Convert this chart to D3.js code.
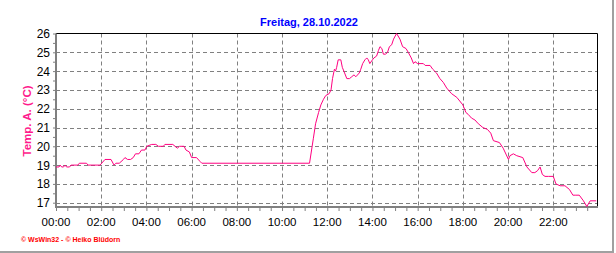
<!DOCTYPE html>
<html>
<head>
<meta charset="utf-8">
<script src="https://cdn.jsdelivr.net/npm/d3@7"></script>
<style>
  body { margin: 0; background: #fff; }
  svg { display: block; font-family: Arial, "Liberation Sans", sans-serif; }
</style>
</head>
<body>
<svg id="chart" width="616" height="253"></svg>
<script>
// chart texts
var title = "Freitag, 28.10.2022";
var yLabel = "Temp. A. (°C)";
var footer = "© WsWin32 - © Heiko Blüdorn";

// axis ticks
var yTicks = [17, 18, 19, 20, 21, 22, 23, 24, 25, 26];
var xTickHours = [0, 2, 4, 6, 8, 10, 12, 14, 16, 18, 20, 22];

// measurements (time of day, outdoor temperature)
var times = ["00:00","00:08","00:11","00:15","00:20","00:24","00:28","00:36","00:40","00:58",
  "01:02","01:21","01:25","01:57","02:10","02:26","02:34","02:39","02:48","02:59",
  "03:03","03:10","03:18","03:25","03:31","03:40","03:47","03:56","04:01","04:14",
  "04:25","04:32","04:45","04:49","05:10","05:16","05:22","05:28","05:40","05:45",
  "05:54","06:00","06:13","06:22","06:27","11:13","11:23","11:29","11:37","11:43",
  "11:50","11:56","12:05","12:10","12:14","12:19","12:22","12:25","12:29","12:36",
  "12:40","12:46","12:52","12:59","13:05","13:11","13:16","13:25","13:29","13:34",
  "13:40","13:45","13:49","13:53","14:00","14:04","14:11","14:16","14:20","14:25",
  "14:29","14:35","14:40","14:45","14:51","14:56","15:04","15:13","15:20","15:29",
  "15:35","15:43","15:49","15:53","16:00","16:15","16:20","16:33","16:40","16:50",
  "16:59","17:08","17:17","17:30","17:44","18:00","18:08","18:14","18:23","18:32",
  "18:41","18:53","19:05","19:14","19:21","19:37","19:47","20:01","20:05","20:14",
  "20:23","20:39","20:50","21:03","21:11","21:18","21:25","21:31","21:38","21:47",
  "22:00","22:07","22:18","22:31","22:43","22:52","22:58","23:09","23:20","23:29",
  "23:38","23:54"];
var temps = [18.9,18.9,19.0,18.9,18.9,19.0,18.9,18.9,19.0,19.0,
  19.1,19.1,19.0,19.0,19.3,19.3,19.0,19.1,19.1,19.3,
  19.4,19.3,19.3,19.4,19.6,19.6,19.8,19.8,20.0,20.1,
  20.1,20.0,20.0,20.1,20.1,20.0,19.9,20.0,20.0,19.8,
  19.7,19.4,19.4,19.2,19.1,19.1,20.4,21.2,21.8,22.2,
  22.5,22.7,22.8,23.0,23.6,24.1,24.0,24.2,24.6,24.6,
  24.2,23.9,23.6,23.6,23.7,23.8,23.7,23.9,24.1,24.4,
  24.6,24.7,24.6,24.4,24.6,24.7,24.8,25.1,25.3,25.2,
  24.9,24.9,25.0,25.3,25.4,25.7,26.0,25.7,25.3,25.2,
  25.0,24.7,24.4,24.5,24.4,24.4,24.3,24.3,24.1,23.9,
  23.6,23.4,23.1,22.8,22.6,22.2,21.8,21.7,21.5,21.4,
  21.2,21.0,20.9,20.7,20.3,20.2,19.9,19.3,19.5,19.6,
  19.5,19.4,18.9,18.6,18.6,18.7,18.9,18.5,18.4,18.4,
  18.4,18.0,17.9,17.9,17.7,17.4,17.4,17.4,17.1,16.8,
  17.1,17.1];

function toHours(s) {
    var p = s.split(":");
    return +p[0] + (+p[1]) / 60;
}
var data = times.map(function(t, i) { return {h: toHours(t), v: temps[i]}; });

var svg = d3.select("#chart");
var plotLeft = 56, plotRight = 597, plotTop = 33.5, plotBottom = 207;

var x = d3.scaleLinear().domain([0, 24]).range([plotLeft, plotRight + 1.5]);
var y = d3.scaleLinear().domain([17, 26]).range([202.7, plotTop]);

// grid
var grid = svg.append("g")
    .attr("stroke", "#808080")
    .attr("stroke-dasharray", "4,3");
grid.selectAll("line.h").data(yTicks.filter(function(d) { return d < 26; }))
    .enter().append("line")
    .attr("x1", plotLeft).attr("x2", plotRight)
    .attr("y1", function(d) { return Math.round(y(d)) + 0.5; })
    .attr("y2", function(d) { return Math.round(y(d)) + 0.5; });
grid.selectAll("line.v").data(xTickHours.filter(function(d) { return d > 0; }))
    .enter().append("line")
    .attr("y1", plotTop).attr("y2", plotBottom)
    .attr("x1", function(d) { return Math.round(x(d)) + 0.5; })
    .attr("x2", function(d) { return Math.round(x(d)) + 0.5; });

// frame: black top/right
svg.append("line").attr("x1", plotLeft).attr("x2", plotRight + 0.5)
    .attr("y1", plotTop).attr("y2", plotTop).attr("stroke", "#000");
svg.append("line").attr("x1", plotRight + 0.5).attr("x2", plotRight + 0.5)
    .attr("y1", plotTop).attr("y2", plotBottom).attr("stroke", "#000");

// x axis ticks (every 30 min)
var xAxis = d3.axisBottom(x)
    .tickValues(d3.range(0, 24, 0.5))
    .tickSize(4)
    .tickFormat("");
svg.append("g").attr("transform", "translate(0," + plotBottom + ")").call(xAxis)
    .call(function(g) {
        g.select(".domain").remove();
        g.selectAll(".tick line").attr("stroke", "#808080").attr("stroke-width", 1);
    });
svg.append("g").selectAll("text").data(xTickHours).enter().append("text")
    .attr("x", function(d) { return x(d); })
    .attr("y", 226)
    .attr("text-anchor", "middle")
    .attr("font-size", 11.5)
    .attr("fill", "#000")
    .text(function(d) { return d3.format("02d")(d) + ":00"; });

// y axis ticks
var yAxis = d3.axisLeft(y)
    .tickValues(d3.range(17, 26.01, 0.5))
    .tickSize(3)
    .tickFormat("");
svg.append("g").attr("transform", "translate(" + plotLeft + ",0)").call(yAxis)
    .call(function(g) {
        g.select(".domain").remove();
        g.selectAll(".tick line").attr("stroke", "#808080");
    });
svg.append("g").selectAll("text").data(yTicks).enter().append("text")
    .attr("x", 50)
    .attr("y", function(d) { return y(d) + 4.5; })
    .attr("text-anchor", "end")
    .attr("font-size", 12)
    .attr("fill", "#000")
    .text(function(d) { return d; });

// grey thick left/bottom axis lines
svg.append("rect").attr("x", plotLeft - 1).attr("y", plotTop).attr("width", 2)
    .attr("height", plotBottom - plotTop + 1).attr("fill", "#808080");
svg.append("rect").attr("x", plotLeft - 1).attr("y", plotBottom - 1).attr("width", plotRight - plotLeft + 2)
    .attr("height", 2).attr("fill", "#808080");

// temperature line
var line = d3.line()
    .x(function(d) { return x(d.h); })
    .y(function(d) { return y(d.v); });
svg.append("path").datum(data)
    .attr("d", line)
    .attr("fill", "none")
    .attr("stroke", "#ff0080")
    .attr("stroke-width", 1);

// texts
svg.append("text")
    .attr("x", 309).attr("y", 26)
    .attr("text-anchor", "middle")
    .attr("font-size", 11)
    .attr("font-weight", "bold")
    .attr("fill", "#0000ff")
    .text(title);

svg.append("text")
    .attr("transform", "translate(31,121) rotate(-90)")
    .attr("text-anchor", "middle")
    .attr("font-size", 11.5)
    .attr("font-weight", "bold")
    .attr("fill", "#ff1a8c")
    .text(yLabel);

svg.append("text")
    .attr("x", 21).attr("y", 242)
    .attr("font-size", 7)
    .attr("font-weight", "bold")
    .attr("fill", "#ff0000")
    .text(footer);

// outer picture border (right and bottom)
svg.append("rect").attr("x", 612).attr("y", 0).attr("width", 2).attr("height", 253).attr("fill", "#a0a0a0");
svg.append("rect").attr("x", 0).attr("y", 251).attr("width", 614).attr("height", 2).attr("fill", "#a0a0a0");
</script>
</body>
</html>
